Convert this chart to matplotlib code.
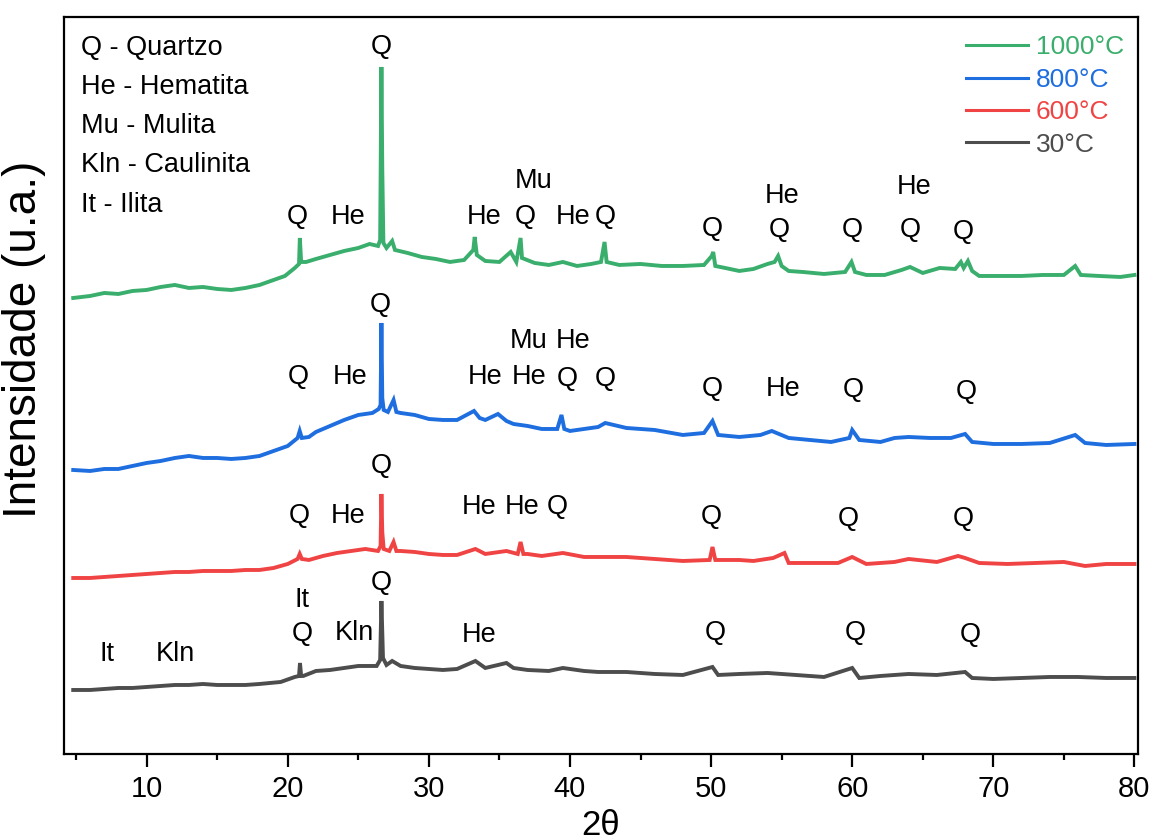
import matplotlib
matplotlib.use("Agg")
import matplotlib.pyplot as plt
from matplotlib.lines import Line2D

# 2theta / intensity (u.a., already stacked)
tt_1000 = [4.8, 6, 7, 8, 9, 10, 11, 12, 13, 14, 15, 16, 17, 18, 19, 19.8, 20.5, 20.8, 20.86, 20.95,
           21.3, 22, 23, 24, 25, 25.8, 26.4, 26.55, 26.64, 26.7, 26.78, 27.0, 27.4, 27.6, 28.5, 29.5,
           30.5, 31.5, 32.5, 33.15, 33.25, 33.4, 34, 35, 35.8, 36.2, 36.5, 36.6, 37.5, 38.5, 39.5,
           40.5, 41.5, 42.2, 42.45, 42.6, 43.5, 45, 46.5, 48, 49.5, 50.05, 50.15, 50.3, 51, 52, 53,
           54, 54.5, 54.75, 55, 55.5, 56.5, 58, 59.5, 59.95, 60.2, 61, 62.3, 63.5, 64.1, 65, 66.2,
           67.3, 67.7, 67.9, 68.2, 68.5, 69, 70.5, 72, 73.5, 75, 75.8, 76.2, 77.5, 79, 80]
i_1000 = [456, 458, 461, 460, 463, 464, 467, 469, 466, 467, 465, 464, 466, 469, 474, 478, 486, 490, 516, 492,
          492, 495, 499, 503, 506, 510, 508, 514, 687, 586, 511, 506, 513, 504, 501, 497,
          495, 492, 494, 504, 517, 499, 493, 492, 502, 492, 516, 496, 491, 489, 492,
          488, 490, 492, 512, 492, 489, 490, 488, 488, 489, 498, 502, 488, 486, 483, 485,
          490, 492, 498, 488, 483, 482, 480, 482, 492, 482, 479, 479, 484, 487, 481, 486,
          485, 492, 486, 493, 483, 478, 478, 478, 479, 479, 488, 479, 478, 477, 479]

tt_800 = [4.8, 6, 7, 8, 9, 10, 11, 12, 13, 14, 15, 16, 17, 18, 19, 20, 20.7, 20.85, 21.0, 21.5, 22,
          23, 24, 25, 26, 26.45, 26.58, 26.64, 26.7, 26.8, 27.1, 27.5, 27.7, 28, 29, 30, 31, 32,
          32.8, 33.2, 33.6, 34, 34.9, 35.5, 36, 37, 38, 39.1, 39.4, 39.6, 40, 41, 42, 42.5, 44, 46,
          48, 49.5, 50.1, 50.5, 52, 53.5, 54.3, 55.5, 57, 58.5, 59.8, 60.0, 60.5, 62, 63, 64, 65.5,
          67, 68, 68.5, 70, 72, 74, 75.8, 76.5, 78, 80]
i_800 = [284, 283, 285, 285, 288, 291, 293, 296, 298, 296, 296, 295, 296, 298, 303, 308, 316, 323, 316, 317, 322,
         328, 334, 339, 341, 345, 349, 431, 356, 344, 342, 354, 342, 341, 339, 335, 334, 334,
         340, 343, 336, 334, 340, 333, 330, 328, 325, 325, 339, 325, 323, 325, 327, 331, 326, 324,
         319, 321, 333, 319, 317, 319, 323, 316, 314, 312, 316, 324, 314, 312, 316, 317, 316,
         316, 320, 312, 310, 310, 311, 319, 311, 309, 310]

tt_600 = [4.8, 6, 7, 8, 9, 10, 11, 12, 13, 14, 15, 16, 17, 18, 19, 20, 20.7, 20.85, 21.0, 21.5, 22.5,
          23.5, 24.5, 25.5, 26.4, 26.58, 26.64, 26.7, 26.8, 27.2, 27.5, 27.7, 28, 29, 30, 31, 32,
          33.3, 34, 35.5, 36.3, 36.5, 36.7, 37, 38, 39.5, 41, 42, 44, 46, 48, 49.9, 50.1, 50.3,
          52, 53, 54.4, 55.2, 55.5, 57, 59, 60.0, 61, 63, 64, 66, 67.5, 68, 69, 71, 73, 75, 76.5,
          78, 80]
i_600 = [176, 176, 177, 178, 179, 180, 181, 182, 182, 183, 183, 183, 184, 184, 186, 190, 195, 200, 195, 194, 198,
         201, 203, 205, 203, 208, 260, 222, 205, 203, 212, 203, 203, 202, 200, 199, 199,
         205, 200, 203, 200, 212, 200, 200, 198, 201, 197, 197, 197, 195, 193, 194, 207, 194,
         194, 193, 196, 201, 191, 191, 191, 197, 190, 192, 195, 192, 198, 196, 191, 190, 191, 192, 188,
         190, 190]

tt_30 = [4.8, 6, 7, 8, 9, 10, 11, 12, 13, 14, 15, 16, 17, 18, 19.5, 20.5, 20.8, 20.87, 20.95, 21.1,
         22, 23, 24, 25, 26.3, 26.55, 26.64, 26.75, 27, 27.4, 28, 29, 30, 31, 32, 33.3, 34, 35.5,
         36, 37, 38.5, 39.5, 41, 42, 44, 46, 48, 50.1, 50.5, 52, 54, 56, 58, 60.0, 60.5, 62, 64,
         66, 68, 68.5, 70, 72, 74, 76, 78, 80]
i_30 = [64, 64, 65, 66, 66, 67, 68, 69, 69, 70, 69, 69, 69, 70, 72, 77, 78, 91, 78, 78,
        83, 84, 86, 88, 88, 94, 153, 96, 89, 93, 88, 86, 85, 84, 85, 93, 86, 91,
        86, 84, 83, 86, 83, 82, 82, 80, 79, 87, 79, 80, 81, 79, 77, 86, 76, 78, 80,
        79, 82, 76, 75, 76, 77, 77, 76, 76]

series_labels = ['1000°C', '800°C', '600°C', '30°C']
series_colors = ['#3aae6c', '#1e6ee0', '#f04444', '#4d4d4d']

phase_key = ['Q - Quartzo', 'He - Hematita', 'Mu - Mulita', 'Kln - Caulinita', 'It - Ilita']

# peak labels: (text, 2theta, height)
peak_labels = [
    ('Q', 26.6, 700), ('Q', 20.7, 530), ('He', 24.3, 530), ('He', 33.9, 530), ('Q', 36.8, 530),
    ('Mu', 37.4, 566), ('He', 40.2, 530), ('Q', 42.5, 530), ('Q', 50.1, 518), ('He', 55.0, 551),
    ('Q', 54.8, 517), ('Q', 60.0, 517), ('He', 64.4, 560), ('Q', 64.1, 517), ('Q', 67.9, 515),
    ('Q', 26.55, 442), ('Q', 20.75, 370), ('He', 24.4, 370), ('He', 34.0, 370), ('He', 37.1, 370),
    ('Mu', 37.1, 406), ('He', 40.2, 406), ('Q', 39.8, 368), ('Q', 42.5, 368), ('Q', 50.1, 358),
    ('He', 55.1, 358), ('Q', 60.1, 357), ('Q', 68.1, 355),
    ('Q', 26.65, 281), ('Q', 20.84, 231), ('He', 24.28, 231), ('He', 33.56, 240), ('He', 36.6, 240),
    ('Q', 39.1, 240), ('Q', 50.0, 230), ('Q', 59.7, 228), ('Q', 67.9, 228),
    ('Q', 26.65, 164), ('It', 21.0, 147), ('Q', 21.0, 113), ('Kln', 24.74, 114), ('He', 33.56, 112),
    ('It', 7.17, 93), ('Kln', 12.06, 93), ('Q', 50.3, 114), ('Q', 60.25, 114), ('Q', 68.4, 112),
]

plt.rcParams['font.family'] = ['Liberation Sans', 'DejaVu Sans']

fig = plt.figure(figsize=(11.54, 8.40), dpi=100)
ax = fig.add_axes([0.0555, 0.1024, 0.9306, 0.8774])

xs = [tt_1000, tt_800, tt_600, tt_30]
ys = [i_1000, i_800, i_600, i_30]
for x, y, lab, col in zip(xs, ys, series_labels, series_colors):
    ax.plot(x, y, color=col, lw=2.8, label=lab, solid_joinstyle='miter')

for txt, x, y in peak_labels:
    ax.text(x, y, txt, ha='center', va='baseline', fontsize=19.5, color='black')

for k, line in enumerate(phase_key):
    ax.text(0.0155, 0.948 - k * 0.053, line, transform=ax.transAxes, ha='left', va='baseline',
            fontsize=19.5, color='black')

handles = [Line2D([], [], color=c, lw=2.2) for c in series_colors]
leg = ax.legend(handles, series_labels, loc='upper right', bbox_to_anchor=(0.987, 0.975),
                frameon=False, fontsize=19, handlelength=2.35, handletextpad=0.3,
                labelspacing=0.32, borderaxespad=0, borderpad=0)
for t, c in zip(leg.get_texts(), series_colors):
    t.set_color(c)

ax.set_xlim(4.15, 80.25)
ax.set_ylim(0, 737)
ax.set_xticks(range(10, 81, 10))
ax.set_xticks(range(5, 80, 10), minor=True)
ax.set_yticks([])
ax.tick_params(axis='x', which='major', direction='out', length=9, width=1.6, pad=6,
               labelsize=21)
ax.tick_params(axis='x', which='minor', direction='out', length=4, width=1.6)
for sp in ax.spines.values():
    sp.set_linewidth(1.6)

ax.set_xlabel('2θ', fontsize=25)
ax.xaxis.set_label_coords(0.5, -0.074)
ax.set_ylabel('Intensidade (u.a.)', fontsize=33)
ax.yaxis.set_label_coords(-0.017, 0.563)

fig.savefig('out.png', dpi=100)
